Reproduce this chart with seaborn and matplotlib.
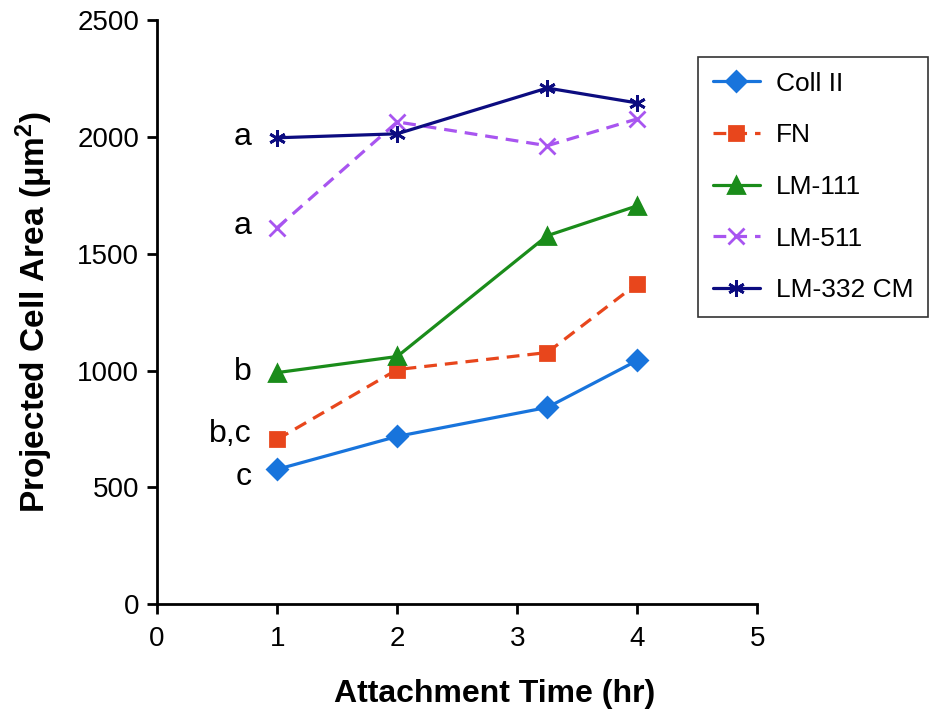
import pandas as pd
import matplotlib.pyplot as plt
import seaborn as sns

# data
times = [1, 2, 3.25, 4]
series_names = ['Coll II', 'FN', 'LM-111', 'LM-511', 'LM-332 CM']
coll_ii = [577, 718, 842, 1043]
fn = [705, 1004, 1077, 1372]
lm_111 = [991, 1060, 1577, 1705]
lm_511 = [1611, 2064, 1962, 2077]
lm_332 = [1996, 2013, 2209, 2145]

# significance letters next to the first time point
sig_letters = ['a', 'a', 'b', 'b,c', 'c']
sig_y = [2000, 1620, 995, 728, 545]

rows = []
for name, vals in zip(series_names, [coll_ii, fn, lm_111, lm_511, lm_332]):
    for t, v in zip(times, vals):
        rows.append({'time': t, 'area': v, 'substrate': name})
df = pd.DataFrame(rows)

sns.set_style('ticks')
plt.rcParams['font.family'] = ['Liberation Sans', 'DejaVu Sans']
plt.rcParams['text.color'] = 'black'
plt.rcParams['axes.labelcolor'] = 'black'
plt.rcParams['xtick.color'] = 'black'
plt.rcParams['ytick.color'] = 'black'

colors = {'Coll II': '#1874dc', 'FN': '#e8461c', 'LM-111': '#1a8c1a',
          'LM-511': '#a855f0', 'LM-332 CM': '#0c0c80'}
markers = {'Coll II': 'D', 'FN': 's', 'LM-111': '^', 'LM-511': 'x',
           'LM-332 CM': (6, 2, 0)}
styles = {'Coll II': '-', 'FN': (0, (4, 2.5)), 'LM-111': '-',
          'LM-511': (0, (4, 2.5)), 'LM-332 CM': '-'}
msizes = {'Coll II': 10, 'FN': 10, 'LM-111': 12, 'LM-511': 12, 'LM-332 CM': 12}

fig = plt.figure(figsize=(9.35, 7.15), dpi=100)
ax = fig.add_axes([0.168, 0.155, 0.642, 0.817])

# one call per series so filled and line markers can be mixed
for name in series_names:
    sub = df[df['substrate'] == name]
    sns.lineplot(data=sub, x='time', y='area', color=colors[name],
                 marker=markers[name], linestyle=styles[name],
                 markersize=msizes[name], markeredgewidth=2,
                 markeredgecolor=colors[name], linewidth=2.3,
                 label=name, ax=ax)

for lab, y in zip(sig_letters, sig_y):
    ax.text(0.79, y, lab, ha='right', va='center', fontsize=23)

ax.set_xlim(0, 5)
ax.set_ylim(0, 2500)
ax.set_xticks(range(0, 6))
ax.set_yticks(range(0, 2501, 500))
ax.tick_params(labelsize=20, width=2, length=7, color='black', pad=6)
ax.tick_params(axis='x', pad=9)
for s in ['left', 'bottom']:
    ax.spines[s].set_linewidth(2)
    ax.spines[s].set_color('black')
sns.despine(ax=ax)

ax.set_xlabel('Attachment Time (hr)', fontsize=23, fontweight='bold')
ax.xaxis.set_label_coords(0.562, -0.128)
ax.set_ylabel(r'Projected Cell Area ($\mathregular{\mu m^2}$)', fontsize=24,
              fontweight='bold', labelpad=16)

handles, labels = ax.get_legend_handles_labels()
leg = ax.legend(handles, labels, loc='upper left',
                bbox_to_anchor=(698 / 935, 1 - 57 / 715),
                bbox_transform=fig.transFigure, fontsize=19, frameon=True,
                fancybox=False, edgecolor='black', labelspacing=1.05,
                handlelength=1.8, handletextpad=0.6, borderpad=0.55,
                borderaxespad=0)
leg.get_frame().set_linewidth(1.2)

fig.savefig('out.png', dpi=100)
